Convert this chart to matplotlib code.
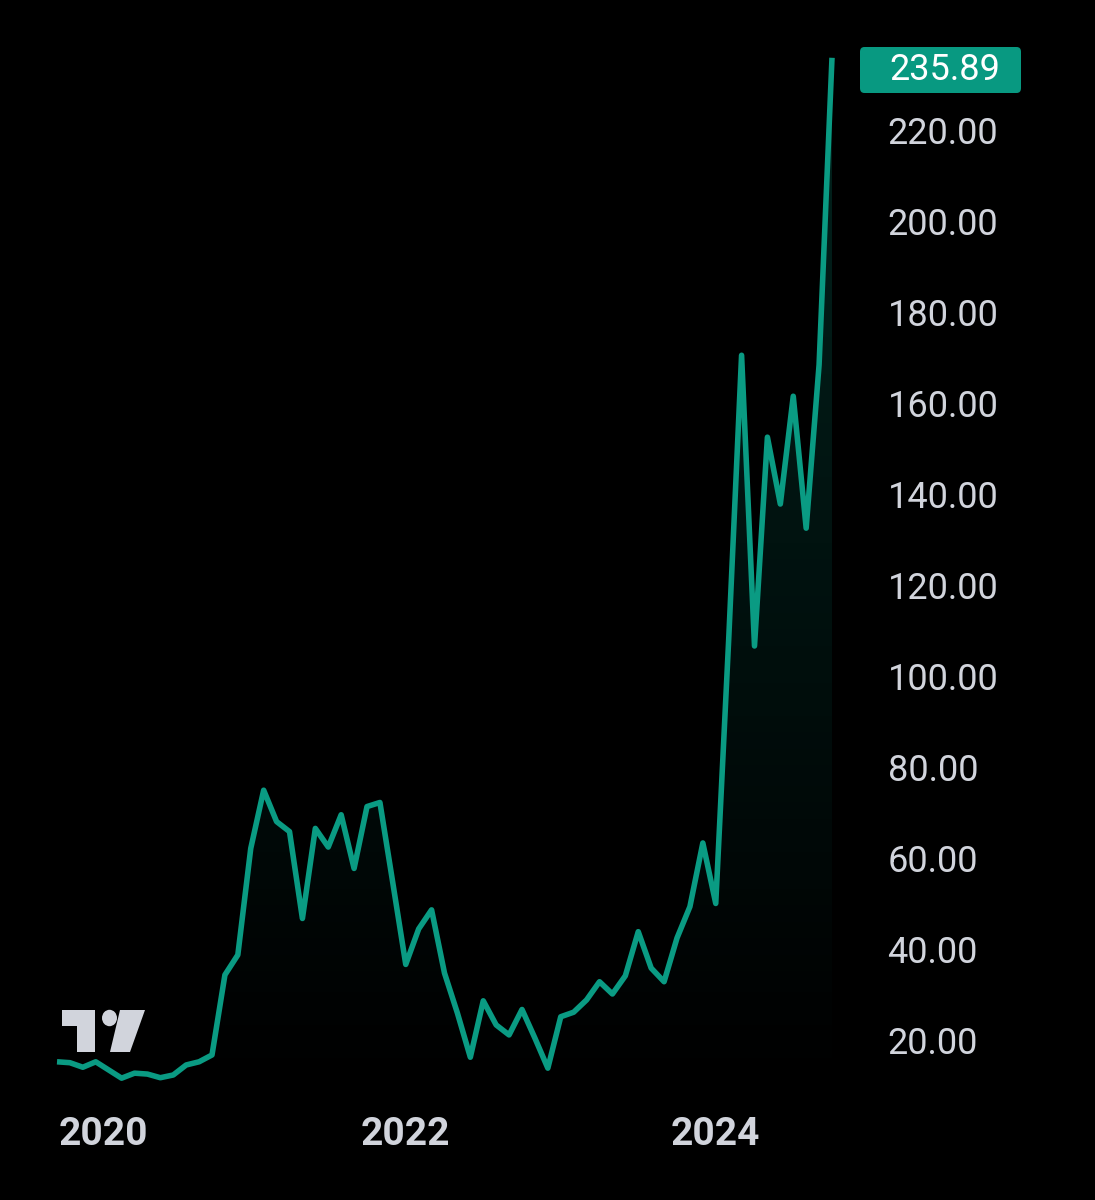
import numpy as np
import matplotlib
matplotlib.use("Agg")
import matplotlib.pyplot as plt
import matplotlib.transforms as mtransforms
from matplotlib.patches import Circle, Polygon, FancyBboxPatch

# monthly closes, Oct 2019 -> Oct 2024
values = [15.2, 15.0, 14.0, 15.2, 13.4, 11.6, 12.7, 12.5, 11.7, 12.3,
          14.5, 15.2, 16.7, 34.3, 38.7, 62.1, 74.9, 68.0, 65.8, 46.7,
          66.5, 62.4, 69.5, 57.7, 71.3, 72.2, 54.5, 36.6, 44.4, 48.6,
          34.7, 25.9, 16.2, 28.6, 23.3, 21.1, 26.7, 20.4, 13.8, 25.1,
          26.1, 28.8, 32.8, 30.1, 34.1, 43.8, 35.8, 32.8, 42.4, 49.3,
          63.3, 50.0, 107.9, 170.5, 106.6, 152.5, 137.8, 161.5, 132.5, 168.4,
          235.89]
year_ticks = [3, 27, 51]
year_labels = ["2020", "2022", "2024"]
price_ticks = [20, 40, 60, 80, 100, 120, 140, 160, 180, 200, 220]
last_price = "235.89"

GREEN = "#089981"
TEXT = "#d1d4dc"
W, H = 1095, 1200

fig = plt.figure(figsize=(W / 100, H / 100), dpi=100, facecolor="black")

def px(x, y):
    return x / W, 1 - y / H

# axes from x=57..832 px, y=40..1095 px
ax = fig.add_axes([57 / W, (H - 1095) / H, 775 / W, 1055 / H])
ax.set_facecolor("black")

x = np.arange(len(values))
y = np.array(values)
ax.set_xlim(0, len(values) - 1)
ax.set_ylim(7.9, 239.8)

# gradient fill under the line
poly_xy = np.column_stack([np.r_[x[0], x, x[-1]], np.r_[7.9, y, 7.9]])
clip = Polygon(poly_xy, closed=True, facecolor="none", edgecolor="none")
ax.add_patch(clip)
grad = np.zeros((256, 1, 4))
grad[:, 0, 0] = 8 / 255
grad[:, 0, 1] = 153 / 255
grad[:, 0, 2] = 129 / 255
grad[:, 0, 3] = np.linspace(0.24, 0.0, 256)
im = ax.imshow(grad, aspect="auto", extent=[x[0], x[-1], 7.9, 239.8],
               origin="upper", zorder=1)
im.set_clip_path(clip)

ax.plot(x, y, color="#0a9b83", lw=4.0, solid_joinstyle="round",
        solid_capstyle="butt", zorder=3, clip_on=False)

for s in ax.spines.values():
    s.set_visible(False)

ax.yaxis.tick_right()
ax.set_yticks(price_ticks)
ax.set_yticklabels([f"{v:.2f}" for v in price_ticks])
ax.tick_params(axis="y", length=0, pad=40, labelsize=26, labelcolor=TEXT)
ax.set_xticks(year_ticks)
ax.set_xticklabels(year_labels, fontweight="bold")
ax.tick_params(axis="x", length=0, pad=15, labelsize=28, labelcolor=TEXT)
for lab in ax.get_yticklabels() + ax.get_xticklabels():
    lab.set_fontfamily("Roboto")
# first year label sits a little right of its tick in the original
first = ax.get_xticklabels()[0]
first.set_transform(first.get_transform() +
                    mtransforms.ScaledTranslation(8 / 100, 0, fig.dpi_scale_trans))

# last price tag
x0, y0 = px(860, 93)
x1, y1 = px(1021, 47)
fig.patches.append(FancyBboxPatch((x0, y0), x1 - x0, y1 - y0,
                                  boxstyle="round,pad=0,rounding_size=0.004",
                                  transform=fig.transFigure, facecolor=GREEN,
                                  edgecolor="none"))
fig.text(*px(889, 70), last_price, color="white", fontsize=26, family="Roboto",
         ha="left", va="center")

# TradingView logo
fig.patches.append(Polygon([px(62, 1010), px(95, 1010), px(95, 1052), px(77, 1052),
                            px(77, 1026), px(62, 1026)], closed=True,
                           transform=fig.transFigure, facecolor=TEXT, edgecolor="none"))
cx, cy = px(109.5, 1018)
fig.patches.append(Circle((cx, cy), 7.5 / W, transform=fig.transFigure,
                          facecolor=TEXT, edgecolor="none"))
fig.patches.append(Polygon([px(120, 1010), px(145, 1010), px(130, 1052), px(110, 1052)],
                           closed=True, transform=fig.transFigure,
                           facecolor=TEXT, edgecolor="none"))

fig.savefig("out.png", dpi=100, facecolor="black")
